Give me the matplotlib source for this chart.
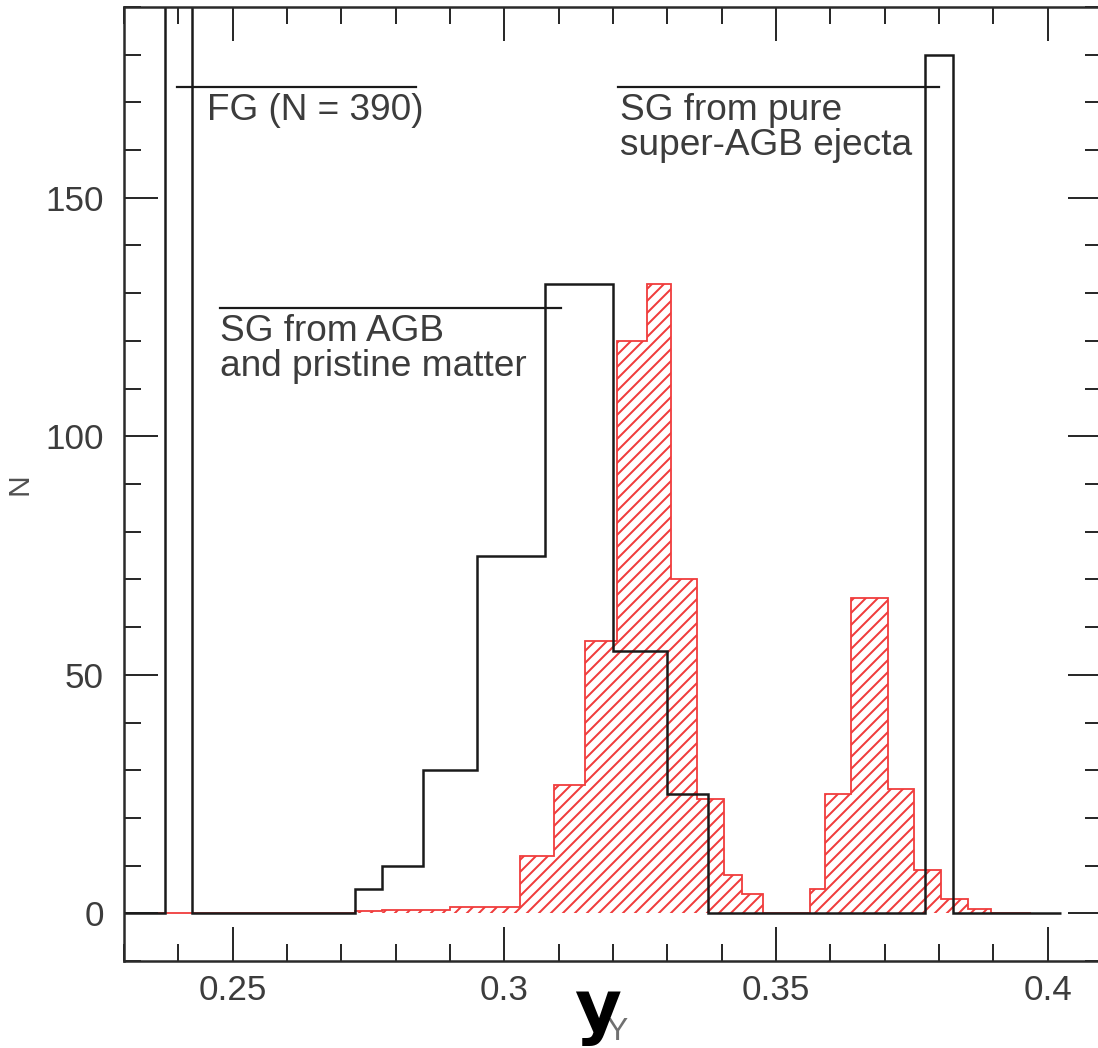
import matplotlib
matplotlib.use("Agg")
import matplotlib.pyplot as plt
from matplotlib.ticker import MultipleLocator, FuncFormatter

plt.rcParams["font.family"] = ["Liberation Sans", "DejaVu Sans"]
plt.rcParams["hatch.linewidth"] = 2.0

# black outline: FG spike, SG from AGB + pristine matter, SG from super-AGB spike
black_edges = [0.23, 0.2375, 0.2425, 0.2725, 0.2775, 0.285, 0.295, 0.3075,
               0.32, 0.33, 0.3375, 0.3775, 0.3825, 0.4025]
black_counts = [0, 390, 0, 5, 10, 30, 75, 132, 55, 25, 0, 180, 0]

# red hatched: observed-like distribution
red_edges = [0.23, 0.2725, 0.2775, 0.29, 0.3028, 0.3092, 0.3149, 0.3208,
             0.3263, 0.3307, 0.3355, 0.3404, 0.3438, 0.3476, 0.3563, 0.3590,
             0.3638, 0.3706, 0.3754, 0.3803, 0.3853, 0.3895, 0.3969]
red_counts = [0, 0.5, 0.7, 1.3, 12, 27, 57, 120, 132, 70, 24, 8, 4, 0,
              5, 25, 66, 26, 9, 3, 1, 0]

# labels with the bar drawn above each: (bar x0, bar x1, bar y, text x, lines)
labels = [
    (0.2397, 0.2838, 173.2, 0.2452, ["FG (N = 390)"]),
    (0.3210, 0.3800, 173.2, 0.3213, ["SG from pure", "super-AGB ejecta"]),
    (0.2476, 0.3105, 127.0, 0.2476, ["SG from AGB", "and pristine matter"]),
]

W, H = 1098, 1048
fig = plt.figure(figsize=(W / 72, H / 72), dpi=72)
ax = fig.add_axes([124 / W, 1 - 961 / H, (1102 - 124) / W, (961 - 7) / H])

red = "#f03c3c"
ax.stairs(red_counts, red_edges, fill=True, facecolor="none", edgecolor=red,
          hatch="//", linewidth=1.8, zorder=1)
ax.stairs(black_counts, black_edges, color="#1a1a1a", linewidth=2.5, zorder=2)

text_col = "#3c3c3c"
px = 200 / (961 - 7)  # data units of N per pixel
for x0, x1, ybar, xt, lines in labels:
    ax.plot([x0, x1], [ybar, ybar], color="#1a1a1a", lw=2.2, zorder=3)
    for i, line in enumerate(lines):
        ax.text(xt, ybar - 33 * px - i * 35 * px, line, fontsize=37,
                color=text_col, ha="left", va="baseline")

ax.set_xlim(0.23, 0.41)
ax.set_ylim(-10, 190)
ax.xaxis.set_major_locator(MultipleLocator(0.05))
ax.xaxis.set_minor_locator(MultipleLocator(0.01))
ax.yaxis.set_major_locator(MultipleLocator(50))
ax.yaxis.set_minor_locator(MultipleLocator(10))
ax.xaxis.set_major_formatter(FuncFormatter(lambda v, _: f"{v:g}"))
ax.tick_params(which="both", direction="in", top=True, right=True,
               width=2, color="#2a2a2a", labelsize=35, labelcolor=text_col)
ax.tick_params(which="major", length=34)
ax.tick_params(which="minor", length=17)
ax.tick_params(axis="x", pad=13)
ax.tick_params(axis="y", pad=20)
for s in ax.spines.values():
    s.set_linewidth(2.5)
    s.set_color("#2a2a2a")

ax.set_ylabel("N", fontsize=30, color="#505050", labelpad=12)
ax.set_xlabel("Y", fontsize=32, color="#707070")
ax.xaxis.set_label_coords((617 - 124) / 978, (961 - 1017) / 954)
fig.text(598 / W, 1 - 1031 / H, "y", fontsize=72, fontweight="bold",
         family="DejaVu Sans", color="black", ha="center", va="baseline")

fig.savefig("out.png", dpi=72)
